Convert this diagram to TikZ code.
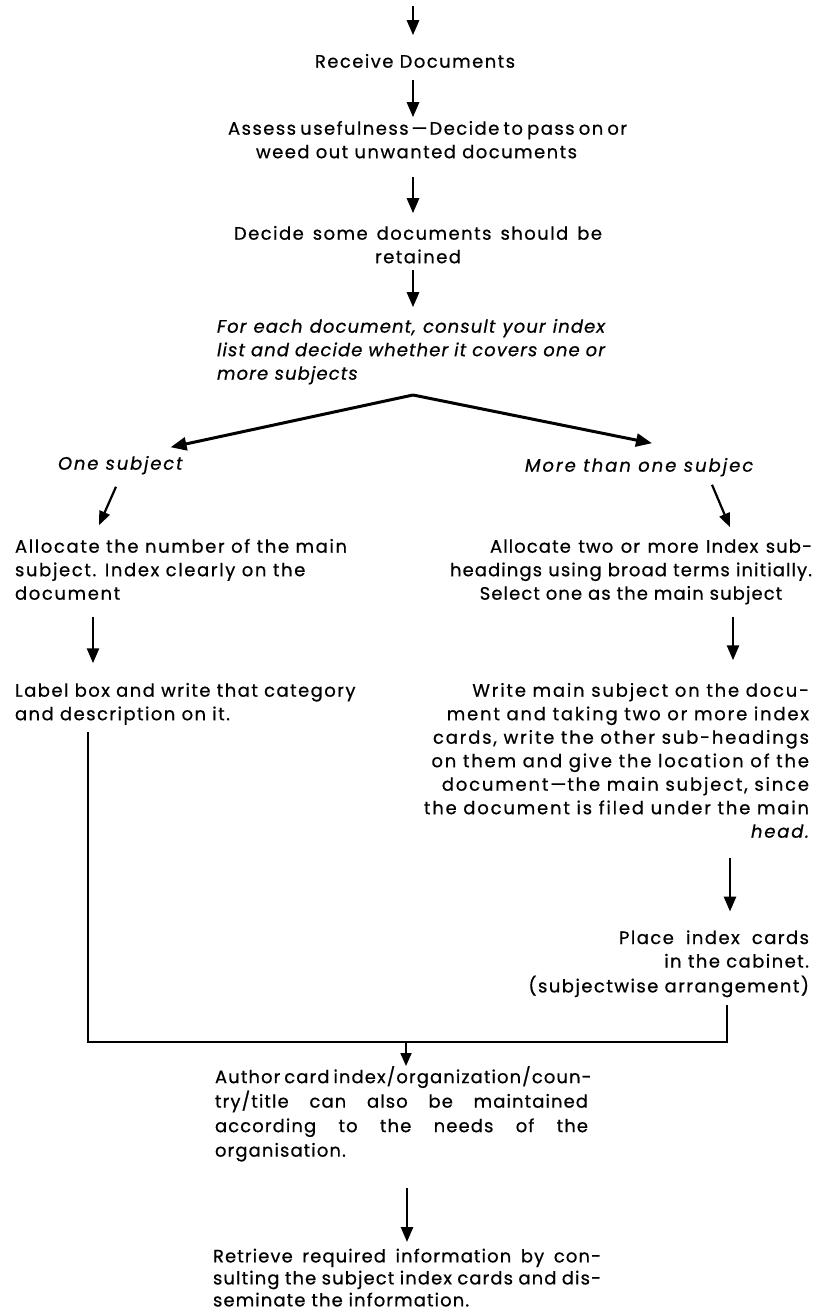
\documentclass[tikz,border=0pt]{standalone}
\usepackage{fontspec}
\setmainfont{Poppins}[LetterSpace=8,FakeBold=0.6]
\usetikzlibrary{arrows.meta,calc}
\newcommand\fs{\fontsize{18}{23.5}\selectfont}
\newcommand\lsp[1]{\addfontfeatures{LetterSpace=#1}}
\newcommand\JL[2]{\makebox[#1][s]{\strut #2}}
\newcommand\NL[1]{\strut #1}
\tikzset{
  txt/.style={inner sep=0pt, outer sep=0pt, font=\fs},
  itx/.style={inner sep=0pt, outer sep=0pt, font=\fs\itshape},
  arr/.style={line width=2.6pt, -{Triangle[length=15pt,width=12pt]}},
  sarr/.style={line width=2.2pt, -{Triangle[length=14pt,width=11pt]}},
  brarr/.style={line width=3pt, -{Triangle[length=16pt,width=13pt]}},
  bus/.style={line width=2pt}
}
\begin{document}
\begin{tikzpicture}[x=1pt,y=-1pt]
\fill[white] (0,0) rectangle (825,1313);
\useasboundingbox (0,0) rectangle (825,1313);

\coordinate (top) at (413,6);
\node[txt] (recv) at (415,63) {\strut Receive Documents};
\node[txt, align=center] (assess) at (416.5,141.75)
  {\JL{377pt}{Assess usefulness\kern3pt---\kern2pt Decide to pass on or}\\\NL{weed out unwanted documents}};
\node[txt, align=center] (decide) at (418,246.75)
  {\JL{368pt}{Decide some documents should be}\\\NL{retained}};
\node[itx, font=\fs\itshape\lsp{6}, align=left, anchor=west] (foreach) at (217,351.5)
  {\JL{388pt}{For each document, consult your index}\\\JL{388pt}{list and decide whether it covers one or}\\\NL{more subjects}};
\coordinate (apex) at (413,395);
\node[itx, font=\fs\itshape\lsp{10}, anchor=west] (one) at (58,465) {\strut One subject};
\node[itx, font=\fs\itshape\lsp{11}, anchor=west] (more) at (525,467) {\strut More than one subjec};

\node[txt, font=\fs\lsp{9}, align=left, anchor=west] (alloc1) at (15,571.5)
  {\NL{Allocate the number of the main}\\\NL{subject. Index clearly on the}\\\NL{document}};
\node[txt, align=left, anchor=west] (label) at (15,703.75)
  {\NL{Label box and write that category}\\\NL{and description on it.}};

\node[txt, font=\fs\lsp{6}, align=right, anchor=east] (alloc2) at (812,571.5)
  {\JL{322pt}{Allocate two or more Index sub-}\\\JL{362pt}{headings using broad terms initially.}\\\makebox[362pt][c]{\strut Select one as the main subject}};
\node[txt, font=\fs\lsp{10}, align=right, anchor=east] (write) at (809,762.5)
  {\NL{Write main subject on the docu-}\\\NL{ment and taking two or more index}\\\NL{cards, write the other sub-headings}\\\NL{on them and give the location of the}\\\NL{document\kern2pt---\kern1pt the main subject, since}\\\NL{the document is filed under the main}\\\NL{\itshape head.}};
\node[txt, align=right, anchor=east] (place) at (809,963.5)
  {\JL{190pt}{Place index cards}\\\NL{in the cabinet.}\\\NL{(subjectwise arrangement)}};

\node[txt, font=\fontsize{18}{24.5}\selectfont\lsp{6}, align=left, anchor=west] (author) at (215,1115)
  {\JL{373pt}{Author card index/organization/coun-}\\\JL{373pt}{try/title can also be maintained}\\\JL{373pt}{according to the needs of the}\\\NL{organisation.}};
\node[txt, font=\fontsize{18}{22}\selectfont\lsp{6}, align=left, anchor=west] (retrieve) at (213,1280)
  {\JL{388pt}{Retrieve required information by con-}\\\JL{388pt}{sulting the subject index cards and dis-}\\\NL{seminate the information.}};

% main column arrows
\draw[arr] (top) -- ($(recv.north)+(-2,-16)$);
\draw[arr] ($(recv.south)+(-2,5)$) -- ($(assess.north)+(-3.5,-1)$);
\draw[arr] ($(assess.south)+(-3.5,12)$) -- ($(decide.north)+(-5,-10)$);
\draw[arr] ($(decide.south)+(-5,0)$) -- ($(foreach.north)+(2,-9)$);
% branch
\draw[brarr] (apex) -- ($(one.north east)+(-12,-6)$);
\draw[brarr] (apex) -- ($(more.north west)+(127,-12)$);
\draw[sarr] ($(one.south west)+(58,10)$) -- ($(alloc1.north west)+(84,-11)$);
\draw[sarr] ($(more.south west)+(187,6)$) -- ($(alloc2.north east)+(-82,-9)$);
% left column
\draw[arr] ($(alloc1.south west)+(78,10)$) -- ($(label.north west)+(78,-17)$);
% right column
\draw[arr] ($(alloc2.south east)+(-79,10)$) -- ($(write.north east)+(-76,-20)$);
\draw[arr] ($(write.south east)+(-79,13)$) -- ($(place.north east)+(-79,-16)$);
% bus
\coordinate (busL) at ($(label.south west)+(73,5)$);
\coordinate (busR) at ($(place.south east)+(-82,6)$);
\coordinate (join) at ($(author.north west)+(191,-24)$);
\draw[bus] (busL) |- (join) -| (busR);
\draw[line width=1.8pt, -{Triangle[length=13pt,width=11pt]}] (join) -- ($(author.north west)+(191,0)$);
\draw[arr] ($(author.south west)+(192,24)$) -- ($(retrieve.north west)+(194,-5)$);
\end{tikzpicture}
\end{document}
